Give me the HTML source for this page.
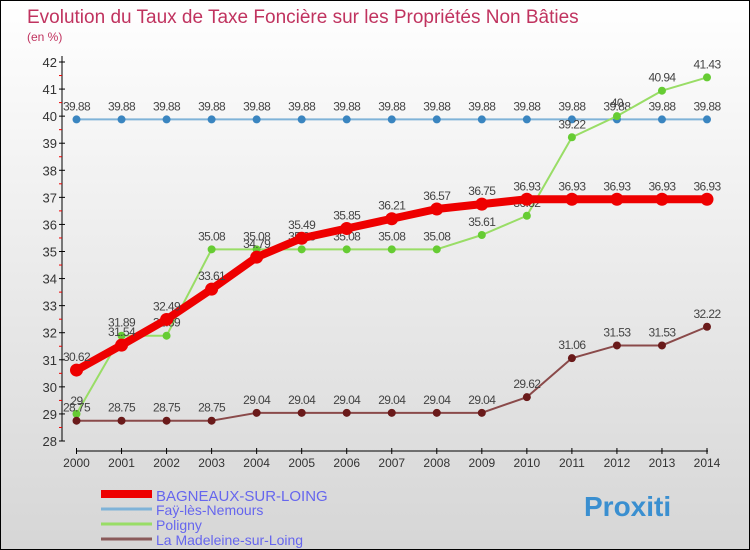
<!DOCTYPE html>
<html><head><meta charset="utf-8"><style>
body{margin:0}
#c{width:750px;height:550px;position:relative;overflow:hidden;box-sizing:border-box;border:1px solid #000;background:linear-gradient(#ffffff,#d6d6d6);font-family:"Liberation Sans",sans-serif}
</style></head><body>
<div id="c">
<svg id="s" width="750" height="550" style="position:absolute;left:0;top:0">
<text x="26" y="22" font-size="19" fill="#c0335f">Evolution du Taux de Taxe Foncière sur les Propriétés Non Bâties</text>
<text x="26" y="40" font-size="12" fill="#c0335f">(en %)</text>
</svg>
</div>
<script>
const years=[2000,2001,2002,2003,2004,2005,2006,2007,2008,2009,2010,2011,2012,2013,2014];
const bagneaux=[30.62,31.54,32.49,33.61,34.79,35.49,35.85,36.21,36.57,36.75,36.93,36.93,36.93,36.93,36.93];
const fay=[39.88,39.88,39.88,39.88,39.88,39.88,39.88,39.88,39.88,39.88,39.88,39.88,39.88,39.88,39.88];
const poligny=[29,31.89,31.89,35.08,35.08,35.08,35.08,35.08,35.08,35.61,36.32,39.22,40,40.94,41.43];
const madeleine=[28.75,28.75,28.75,28.75,29.04,29.04,29.04,29.04,29.04,29.04,29.62,31.06,31.53,31.53,32.22];
const yTicks=[28,29,30,31,32,33,34,35,36,37,38,39,40,41,42];
const seriesNames=["BAGNEAUX-SUR-LOING","Faÿ-lès-Nemours","Poligny","La Madeleine-sur-Loing"];
const NS="http://www.w3.org/2000/svg",s=document.getElementById('s');
const X=i=>75.5+i*(706-75.5)/(years.length-1);
const Y=v=>440-(v-28)*(440-61)/14;
function el(t,a,p){const e=document.createElementNS(NS,t);for(const k in a)e.setAttribute(k,a[k]);(p||s).appendChild(e);return e;}
const ax=el('line',{x1:61,y1:55,x2:61,y2:440,stroke:'#000'});


yTicks.forEach(v=>{
 el('line',{x1:58,x2:64,y1:Y(v),y2:Y(v),stroke:'#000'});
 if(v<42)el('line',{x1:58,x2:61,y1:Y(v+0.5),y2:Y(v+0.5),stroke:'#e00'});
 const t=el('text',{x:56,y:Y(v)+5,'text-anchor':'end','font-size':13,fill:'#333'});t.textContent=v;
 
 
});
const xa=el('line',{x1:75,y1:450,x2:707,y2:450,stroke:'#000'});


years.forEach((y,i)=>{
 el('line',{x1:X(i),x2:X(i),y1:447,y2:453,stroke:'#000'});
 const t=el('text',{x:X(i),y:466,'text-anchor':'middle','font-size':12,fill:'#333'});t.textContent=y;
 
 
});
function series(data,color,w,r,dot,name){
 const g=el('g',{});
 
 
 el('polyline',{points:data.map((v,i)=>X(i)+','+Y(v)).join(' '),fill:'none',stroke:color,'stroke-width':w,'stroke-linejoin':'round'},g);
 data.forEach((v,i)=>{
  const c=el('circle',{cx:X(i),cy:Y(v),r:r,fill:dot},g);
  
  
  const t=el('text',{x:X(i),y:Y(v)-9,'text-anchor':'middle','font-size':12,fill:'#444','letter-spacing':'-0.6'},g);t.textContent=v;
  
  
 });
}
series(fay,'#7fb3d8',2,4,'#3a85c0','fay-series');
series(poligny,'#99dd66',2,4,'#66cc33','poligny-series');
series(madeleine,'#8a4a4a',2,4,'#6a1a1a','madeleine-series');
series(bagneaux,'#ee0000',8,6.5,'#ee0000','bagneaux-series');
const lc=['#ee0000','#7fb3d8','#99dd66','#8a5a5a'],lw=[8,3,3,3];
seriesNames.forEach((n,i)=>{
 const y=493+i*15;
 const l=el('line',{x1:100,x2:151,y1:y,y2:y,stroke:lc[i],'stroke-width':lw[i]});
 
 
 const t=el('text',{x:155,y:y+(i==0?7:6),'font-size':i==0?15:14,fill:'#6666ee'});t.textContent=n;
 
 
});
const b=el('text',{x:583,y:515,'font-size':28,'font-weight':'bold',fill:'#3a8fd0'});
b.textContent='Proxiti';


</script>
</body></html>
